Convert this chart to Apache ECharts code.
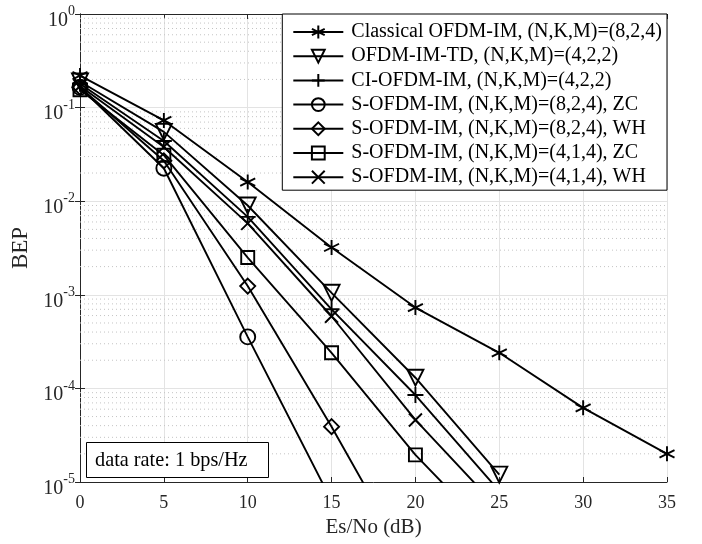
<!DOCTYPE html>
<html>
<head>
<meta charset="utf-8">
<script src="https://cdn.jsdelivr.net/npm/echarts@6/dist/echarts.min.js"></script>
<style>
  html, body { margin: 0; padding: 0; background: #fff; }
  #chart { width: 702px; height: 544px; }
</style>
</head>
<body>
<div id="chart"></div>
<script>
// Es/No (dB) points
var snr = [0, 5, 10, 15, 20, 25, 30, 35];

// BEP per scheme (points below 1e-5 only give the slope to the bottom edge)
var classical = [0.22, 0.073, 0.016, 0.0032, 7.3e-4, 2.4e-4, 6.2e-5, 2.0e-5];
var imTD = [0.19, 0.055, 0.009, 1.05e-3, 1.3e-4, 1.2e-5];
var ciIM = [0.18, 0.044, 0.0068, 7.0e-4, 8.5e-5, 8.0e-6];
var s824ZC = [0.165, 0.0225, 3.55e-4, 6.3e-6];
var s824WH = [0.165, 0.027, 1.24e-3, 3.9e-5, 1.0e-6];
var s414ZC = [0.155, 0.031, 2.5e-3, 2.4e-4, 1.95e-5, 2.3e-6];
var s414WH = [0.17, 0.038, 0.0058, 5.9e-4, 4.6e-5, 5.1e-6];

var names = [
  'Classical OFDM-IM, (N,K,M)=(8,2,4)',
  'OFDM-IM-TD, (N,K,M)=(4,2,2)',
  'CI-OFDM-IM, (N,K,M)=(4,2,2)',
  'S-OFDM-IM, (N,K,M)=(8,2,4), ZC',
  'S-OFDM-IM, (N,K,M)=(8,2,4), WH',
  'S-OFDM-IM, (N,K,M)=(4,1,4), ZC',
  'S-OFDM-IM, (N,K,M)=(4,1,4), WH'
];
var values = [classical, imTD, ciIM, s824ZC, s824WH, s414ZC, s414WH];

var xTicks = [0, 5, 10, 15, 20, 25, 30, 35];

// minor (dotted) grid values 2..9 x 10^k
var minorGrid = [];
for (var k = -5; k <= -1; k++) {
  for (var m = 2; m <= 9; m++) {
    minorGrid.push(m * Math.pow(10, k));
  }
}

var FONT = '"Liberation Serif", "DejaVu Serif", serif';
var TXT = '#262626';

var markers = [
  {symbol: 'path://M0,-10L0,10M-8.66,-5L8.66,5M-8.66,5L8.66,-5', size: 15},   // asterisk
  {symbol: 'path://M-10,-8L10,-8L0,10Z', size: 16},                            // down triangle
  {symbol: 'path://M0,-10L0,10M-10,0L10,0', size: 16},                         // plus
  {symbol: 'circle', size: 15},
  {symbol: 'diamond', size: 15},
  {symbol: 'rect', size: 13},
  {symbol: 'path://M-10,-10L10,10M-10,10L10,-10', size: 13}                    // cross
];

function pairs(arr) {
  return arr.map(function (v, i) { return [snr[i], v]; });
}

var series = values.map(function (arr, i) {
  return {
    name: names[i],
    type: 'line',
    data: pairs(arr),
    symbol: markers[i].symbol,
    symbolSize: markers[i].size,
    showAllSymbol: true,
    clip: true,
    z: 5,
    lineStyle: { color: '#000', width: 1.9 },
    itemStyle: { color: 'rgba(0,0,0,0)', borderColor: '#000', borderWidth: 1.9 },
    emphasis: { disabled: true },
    animation: false
  };
});

// dotted minor grid lines, one flat line per value
minorGrid.forEach(function (v) {
  series.push({
    type: 'line',
    data: [[0, v], [35, v]],
    symbol: 'none',
    silent: true,
    z: 1,
    lineStyle: { color: '#c4c4c4', type: [1, 3], width: 1 },
    emphasis: { disabled: true },
    animation: false
  });
});

function supLabel(v) {
  var e = Math.round(Math.log(v) / Math.LN10);
  return '{b|10}{e|' + e + '}';
}

var chart = echarts.init(document.getElementById('chart'), null, { renderer: 'canvas' });
chart.setOption({
  animation: false,
  backgroundColor: '#fff',
  textStyle: { fontFamily: FONT },
  grid: { left: 80, right: 35, top: 14, bottom: 62 },
  title: {
    text: 'data rate: 1 bps/Hz',
    left: 86, top: 442,
    padding: [8, 21, 7, 9],
    borderColor: '#000', borderWidth: 1,
    backgroundColor: '#fff',
    textStyle: { fontFamily: FONT, fontSize: 20.3, lineHeight: 21, fontWeight: 'normal', color: '#000' }
  },
  legend: {
    orient: 'vertical',
    right: 35, top: 14,
    padding: [8, 5, 3, 10],
    itemWidth: 50, itemHeight: 16, itemGap: 4.2,
    backgroundColor: '#fff',
    borderColor: '#000', borderWidth: 1, borderRadius: 0,
    textStyle: { fontFamily: FONT, fontSize: 20, lineHeight: 20, color: '#000', padding: [0, 0, 0, 3] },
    data: names
  },
  xAxis: [{
    type: 'value',
    min: 0, max: 35, interval: 5,
    name: 'Es/No (dB)', nameLocation: 'middle', nameGap: 31,
    nameTextStyle: { fontFamily: FONT, fontSize: 21, color: TXT },
    axisLine: { lineStyle: { color: '#262626', width: 1 } },
    axisTick: { inside: true, length: 5, lineStyle: { color: '#262626' } },
    axisLabel: { fontFamily: FONT, fontSize: 18, color: TXT, margin: 12,
      formatter: function (v) { return xTicks.indexOf(v) >= 0 ? String(v) : ''; } },
    splitLine: { show: true, lineStyle: { color: '#e3e3e3', width: 1 } }
  }, {
    type: 'value', position: 'top',
    min: 0, max: 35, interval: 5,
    axisLine: { show: true, lineStyle: { color: '#262626' } },
    axisTick: { inside: true, length: 5, lineStyle: { color: '#262626' } },
    axisLabel: { show: false },
    splitLine: { show: false }
  }],
  yAxis: [{
    type: 'log', logBase: 10,
    min: 1e-5, max: 1, interval: 1,
    name: 'BEP', nameLocation: 'middle', nameGap: 46,
    nameTextStyle: { fontFamily: FONT, fontSize: 23, color: TXT },
    axisLine: { show: true, lineStyle: { color: '#262626', width: 1 } },
    axisTick: { inside: true, length: 5, lineStyle: { color: '#262626' } },
    axisLabel: {
      color: TXT, margin: 5,
      padding: [7, 0, 0, 0],
      formatter: supLabel,
      rich: {
        b: { fontFamily: FONT, fontSize: 20, color: TXT, verticalAlign: 'bottom', lineHeight: 26 },
        e: { fontFamily: FONT, fontSize: 14, color: TXT, verticalAlign: 'top', lineHeight: 14 }
      }
    },
    splitLine: { show: true, lineStyle: { color: '#e3e3e3', width: 1 } }
  }, {
    type: 'log', logBase: 10, position: 'right',
    min: 1e-5, max: 1, interval: 1,
    axisLine: { show: true, lineStyle: { color: '#262626' } },
    axisTick: { inside: true, length: 5, lineStyle: { color: '#262626' } },
    axisLabel: { show: false },
    splitLine: { show: false }
  }],
  series: series
});
</script>
</body>
</html>
